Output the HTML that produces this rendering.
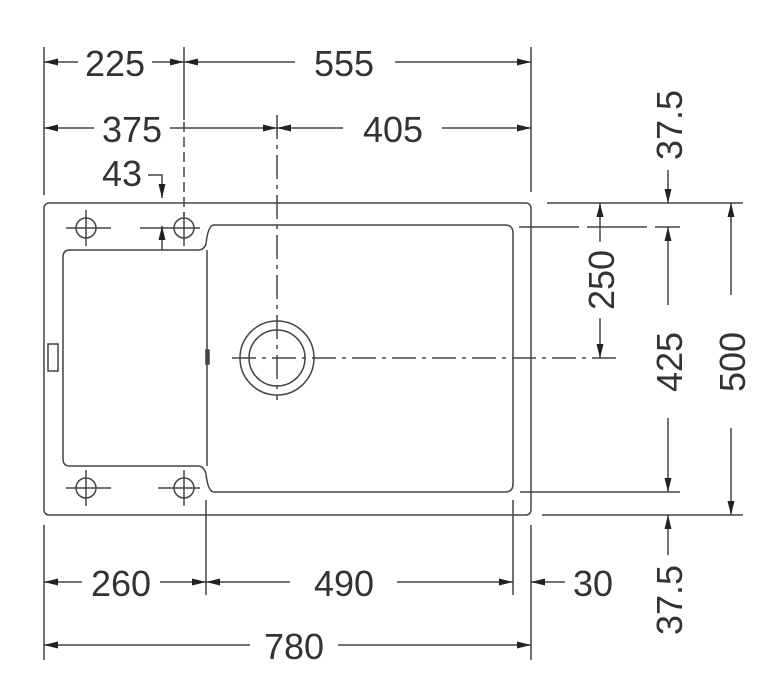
<!DOCTYPE html>
<html><head><style>
html,body{margin:0;padding:0;background:#fff;}
svg{display:block;}
text{font-family:"Liberation Sans",sans-serif;font-size:36px;fill:#333;}
</style></head><body>
<svg width="784" height="700" viewBox="0 0 784 700" xmlns="http://www.w3.org/2000/svg">
<defs>
<marker id="a" viewBox="0 0 14 7" refX="14" refY="3.5" markerWidth="14" markerHeight="7" markerUnits="userSpaceOnUse" orient="auto-start-reverse"><path d="M0,0L14,3.5L0,7z" fill="#222"/></marker>
</defs>
<g stroke="#444" stroke-width="1.5" fill="none">
<rect x="44" y="203" width="487" height="312" rx="5"/>
<path d="M68,250 L198,250 Q204,250 206,244 Q208,225 214,225 L505,225 Q513,225 513,233 L513,484 Q513,492 505,492 L214,492 Q208,492 206,474 Q204,466 198,466 L70,466 Q63,466 63,459 L63,257 Q63,250 70,250"/>
<line x1="207" y1="250" x2="207" y2="466"/>
<rect x="48" y="344" width="10" height="27"/>
<rect x="206" y="350" width="3" height="14" fill="#444"/>
<circle cx="277" cy="358" r="37"/>
<circle cx="277" cy="358" r="28"/>
<g>
<circle cx="86" cy="228" r="10"/><line x1="66" y1="228" x2="111" y2="228"/><line x1="86" y1="210" x2="86" y2="246"/>
<circle cx="184" cy="228" r="10"/><line x1="140" y1="228" x2="200" y2="228"/><line x1="184" y1="212" x2="184" y2="246"/>
<circle cx="86" cy="488" r="10"/><line x1="66" y1="488" x2="111" y2="488"/><line x1="86" y1="470" x2="86" y2="506"/>
<circle cx="184" cy="488" r="10"/><line x1="158" y1="488" x2="200" y2="488"/><line x1="184" y1="470" x2="184" y2="506"/>
</g>
<line x1="277" y1="115" x2="277" y2="400" stroke-dasharray="24,6,4,6"/>
<line x1="232" y1="358" x2="617" y2="358" stroke-dasharray="24,6,4,6"/>
<line x1="184" y1="122" x2="184" y2="215" stroke-dasharray="10,5"/>
<line x1="44" y1="47" x2="44" y2="195"/>
<line x1="184" y1="47" x2="184" y2="120"/>
<line x1="531" y1="47" x2="531" y2="192"/>
<line x1="44" y1="525" x2="44" y2="660"/>
<line x1="206" y1="500" x2="206" y2="595"/>
<line x1="513" y1="500" x2="513" y2="595"/>
<line x1="531" y1="525" x2="531" y2="660"/>
<line x1="547" y1="203" x2="743" y2="203"/>
<line x1="519" y1="227" x2="680" y2="227" stroke-dasharray="60,8"/>
<line x1="520" y1="492" x2="680" y2="492"/>
<line x1="542" y1="515" x2="743" y2="515"/>
<line x1="44" y1="62" x2="78" y2="62" marker-start="url(#a)"/>
<line x1="152" y1="62" x2="184" y2="62" marker-end="url(#a)"/>
<line x1="184" y1="62" x2="295" y2="62" marker-start="url(#a)"/>
<line x1="395" y1="62" x2="531" y2="62" marker-end="url(#a)"/>
<line x1="44" y1="128" x2="94" y2="128" marker-start="url(#a)"/>
<line x1="170" y1="128" x2="277" y2="128" marker-end="url(#a)"/>
<line x1="277" y1="128" x2="343" y2="128" marker-start="url(#a)"/>
<line x1="442" y1="128" x2="531" y2="128" marker-end="url(#a)"/>
<path d="M148,175 L162,175 L162,198" marker-end="url(#a)"/>
<line x1="162" y1="250" x2="162" y2="226" marker-end="url(#a)"/>
<line x1="44" y1="582" x2="82" y2="582" marker-start="url(#a)"/>
<line x1="160" y1="582" x2="206" y2="582" marker-end="url(#a)"/>
<line x1="206" y1="582" x2="290" y2="582" marker-start="url(#a)"/>
<line x1="397" y1="582" x2="513" y2="582" marker-end="url(#a)"/>
<line x1="565" y1="582" x2="531" y2="582" marker-end="url(#a)"/>
<line x1="44" y1="645" x2="250" y2="645" marker-start="url(#a)"/>
<line x1="338" y1="645" x2="531" y2="645" marker-end="url(#a)"/>
<line x1="600" y1="242" x2="600" y2="203" marker-end="url(#a)"/>
<line x1="600" y1="318" x2="600" y2="358" marker-end="url(#a)"/>
<line x1="668" y1="170" x2="668" y2="203" marker-end="url(#a)"/>
<line x1="668" y1="305" x2="668" y2="227" marker-end="url(#a)"/>
<line x1="668" y1="418" x2="668" y2="492" marker-end="url(#a)"/>
<line x1="668" y1="555" x2="668" y2="515" marker-end="url(#a)"/>
<line x1="731" y1="295" x2="731" y2="203" marker-end="url(#a)"/>
<line x1="731" y1="428" x2="731" y2="515" marker-end="url(#a)"/>
</g>
<text x="115" y="76" text-anchor="middle">225</text>
<text x="344" y="76" text-anchor="middle">555</text>
<text x="132" y="142" text-anchor="middle">375</text>
<text x="393" y="142" text-anchor="middle">405</text>
<text x="122" y="186" text-anchor="middle">43</text>
<text x="121" y="596" text-anchor="middle">260</text>
<text x="344" y="596" text-anchor="middle">490</text>
<text x="593" y="596" text-anchor="middle">30</text>
<text x="294" y="659" text-anchor="middle">780</text>
<text transform="translate(614,280) rotate(-90)" text-anchor="middle">250</text>
<text transform="translate(682,125) rotate(-90)" text-anchor="middle">37.5</text>
<text transform="translate(682,362) rotate(-90)" text-anchor="middle">425</text>
<text transform="translate(682,600) rotate(-90)" text-anchor="middle">37.5</text>
<text transform="translate(745,362) rotate(-90)" text-anchor="middle">500</text>
</svg>
</body></html>
